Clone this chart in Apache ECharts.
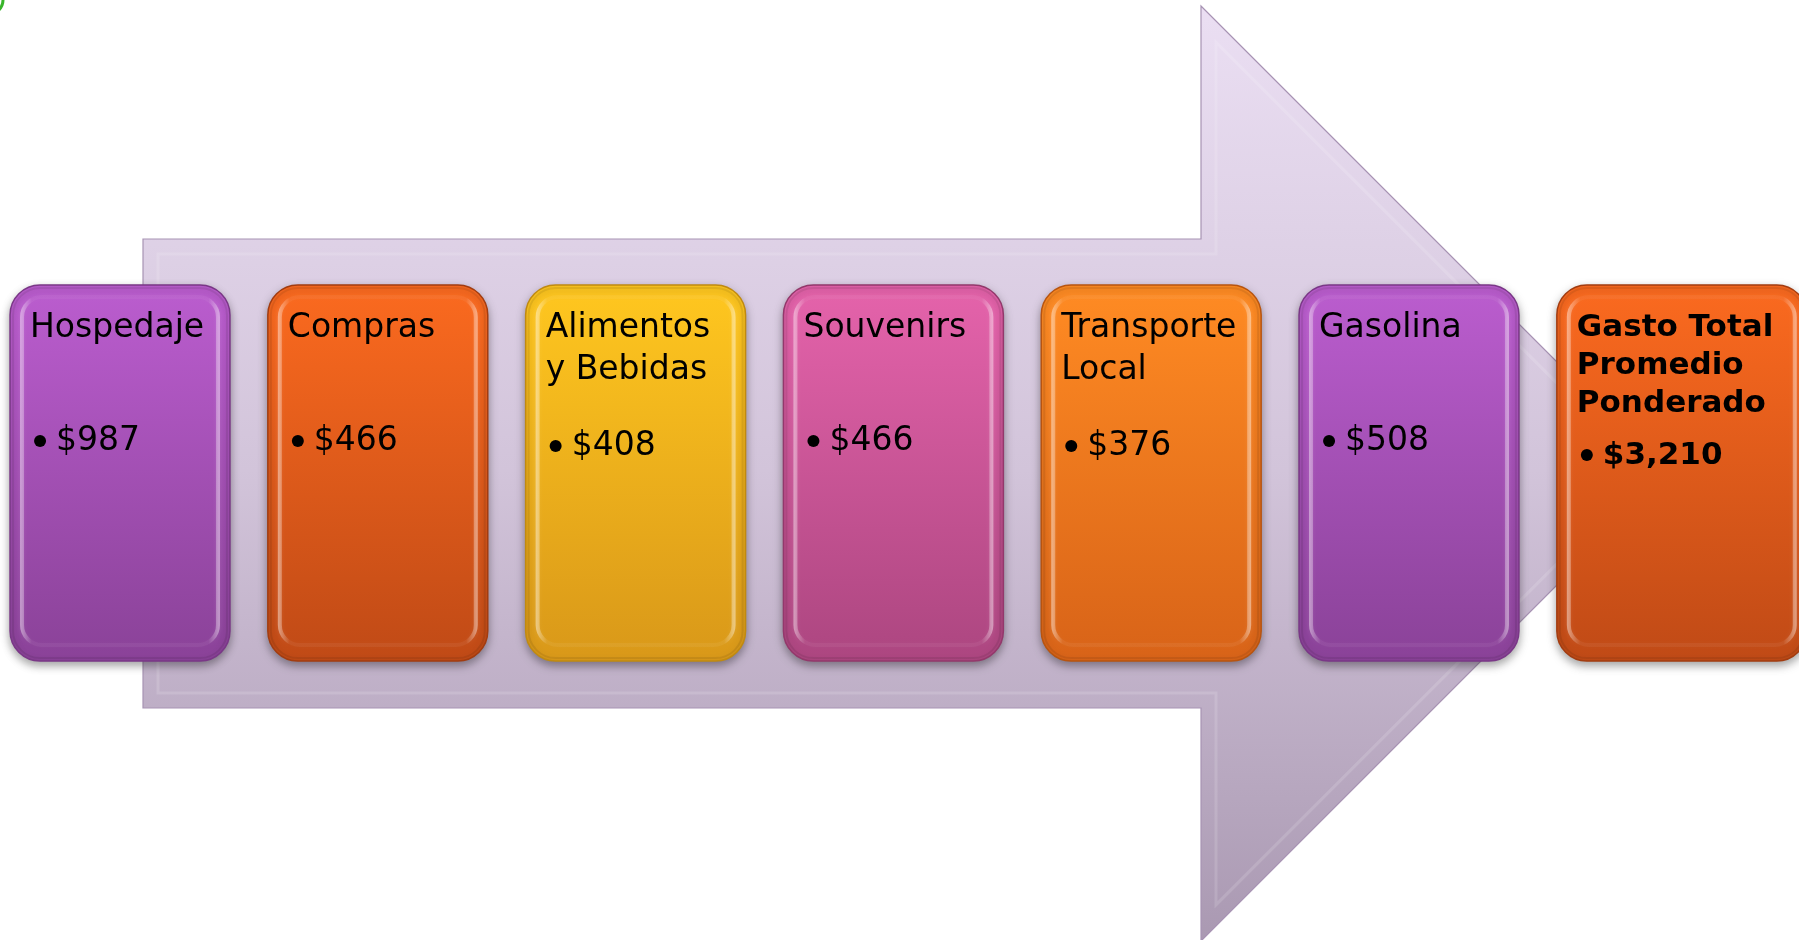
<!DOCTYPE html>
<html><head><meta charset="utf-8">
<script src="https://cdn.jsdelivr.net/npm/echarts@6/dist/echarts.min.js"></script>
<style>html,body{margin:0;padding:0;background:#fff;overflow:hidden}#c{width:1799px;height:940px}</style>
</head><body><div id="c"></div>
<script>
// ---- data ----
const categories = ['Hospedaje', 'Compras', 'Alimentos\ny Bebidas', 'Souvenirs', 'Transporte\nLocal', 'Gasolina', 'Gasto Total\nPromedio\nPonderado'];
const values = [987, 466, 408, 466, 376, 508, 3210];
const valueLabels = values.map(v => '$' + v.toLocaleString('en-US'));

// ---- styles ----
const palette = [
  ['#BB5DCF', '#8A4298'],
  ['#FB6A1F', '#C04A16'],
  ['#FFC71F', '#D99819'],
  ['#E563AB', '#AC4680'],
  ['#FF8B23', '#D86318'],
  ['#BB5DCF', '#8A4298'],
  ['#FB6A1F', '#C04A16']
];
const edge = ['#7A3787', '#A23C10', '#C08A10', '#93386B', '#B8540F', '#7A3787', '#A23C10'];
const FONT = '"DejaVu Sans", Verdana, sans-serif';

const chart = echarts.init(document.getElementById('c'), null, {renderer: 'canvas'});

function lg(x, y, x2, y2, stops, global) {
  return new echarts.graphic.LinearGradient(x, y, x2, y2, stops, global);
}

function renderArrow(params, api) {
  const L = 143, T = 239, B = 708, HX = 1201, HT = 6;
  const cy = (T + B) / 2;
  const half = cy - HT;
  const tipX = HX + half;
  const HB = cy + half;
  const pts = [[L, T], [HX, T], [HX, HT], [tipX, cy], [HX, HB], [HX, B], [L, B]];
  const d = 15, dd = d * Math.SQRT2;
  const inner = [[L + d, T + d], [HX + d, T + d], [HX + d, HT + d + dd], [tipX - dd, cy], [HX + d, HB - d - dd], [HX + d, B - d], [L + d, B - d]];
  return {
    type: 'group',
    children: [
      {type: 'polygon', shape: {points: pts},
        style: {fill: lg(0, 0, 0, 940, [{offset: 0, color: '#EBDFF3'}, {offset: 0.5, color: '#D2C4DA'}, {offset: 1, color: '#AA99B2'}], true),
          stroke: '#A793B3', lineWidth: 1.2}},
      {type: 'polygon', shape: {points: inner},
        style: {fill: null, stroke: 'rgba(255,255,255,0.14)', lineWidth: 3}}
    ]
  };
}

function renderBox(params, api) {
  const i = api.value(0);
  const cx = api.coord([i, 0])[0];
  const w = api.size([1, 0])[0] * 0.853;
  const last = i === categories.length - 1;
  const left = cx - w / 2;
  const width = last ? w + 30 : w;
  const top = 285, bottom = 661, h = bottom - top;
  const c = palette[i];
  const lines = categories[i].split('\n');
  const fs = last ? 31 : 33;
  const lh = last ? 38 : 42;
  const base0 = last ? 339 : 340;
  const font = (last ? 'bold ' : '') + fs + 'px ' + FONT;
  const valBase = last ? 467 : 453 + (lines.length - 1) * 5;
  const mid = fs * 0.35;
  const children = [
    {type: 'rect', shape: {x: left, y: top, width: width, height: h, r: 30},
      style: {fill: lg(0, 0, 0, 1, [{offset: 0, color: c[0]}, {offset: 1, color: c[1]}]),
        stroke: edge[i], lineWidth: 1.5,
        shadowBlur: 8, shadowOffsetY: 4, shadowColor: 'rgba(0,0,0,0.35)'}},
    {type: 'rect', shape: {x: left + 12, y: top + 12, width: width - 24, height: h - 28, r: 20},
      style: {fill: null, lineWidth: 4,
        stroke: lg(0, 0, 1, 0, [
          {offset: 0, color: 'rgba(255,255,255,0.45)'},
          {offset: 0.06, color: 'rgba(255,255,255,0.05)'},
          {offset: 0.94, color: 'rgba(255,255,255,0.05)'},
          {offset: 1, color: 'rgba(255,255,255,0.45)'}]),
        shadowBlur: 4, shadowColor: 'rgba(255,255,255,0.25)'}},
    {type: 'rect', shape: {x: left + 3, y: top + 3, width: width - 6, height: h - 6, r: 27},
      style: {fill: null, lineWidth: 2, stroke: 'rgba(0,0,0,0.08)'}}
  ];
  lines.forEach((t, k) => {
    children.push({type: 'text', style: {text: t, x: left + 20, y: base0 + k * lh - mid,
      font: font, fill: '#000', align: 'left', verticalAlign: 'middle'}});
  });
  children.push({type: 'circle', shape: {cx: left + 30, cy: valBase - 12, r: 6}, style: {fill: '#000'}});
  children.push({type: 'text', style: {text: valueLabels[i], x: left + 46, y: valBase - mid,
    font: font, fill: '#000', align: 'left', verticalAlign: 'middle'}});
  return {type: 'group', children: children};
}

const pitch = 257.8, first = 120;
chart.setOption({
  animation: false,
  backgroundColor: '#ffffff',
  grid: {left: 0, right: 0, top: 0, bottom: 0},
  xAxis: {type: 'value', min: -first / pitch, max: (1799 - first) / pitch, show: false},
  yAxis: {type: 'value', min: 0, max: 940, inverse: true, show: false},
  graphic: [{type: 'circle', shape: {cx: -11, cy: 0, r: 14}, style: {fill: null, stroke: '#38B52A', lineWidth: 3}}],
  series: [
    {type: 'custom', z: 1, silent: true, clip: false, renderItem: renderArrow, data: [[0, 0]]},
    {type: 'custom', z: 2, silent: true, clip: false, renderItem: renderBox,
      data: categories.map((name, i) => ({name: name, value: [i, values[i]]}))}
  ]
});
</script>
</body></html>
